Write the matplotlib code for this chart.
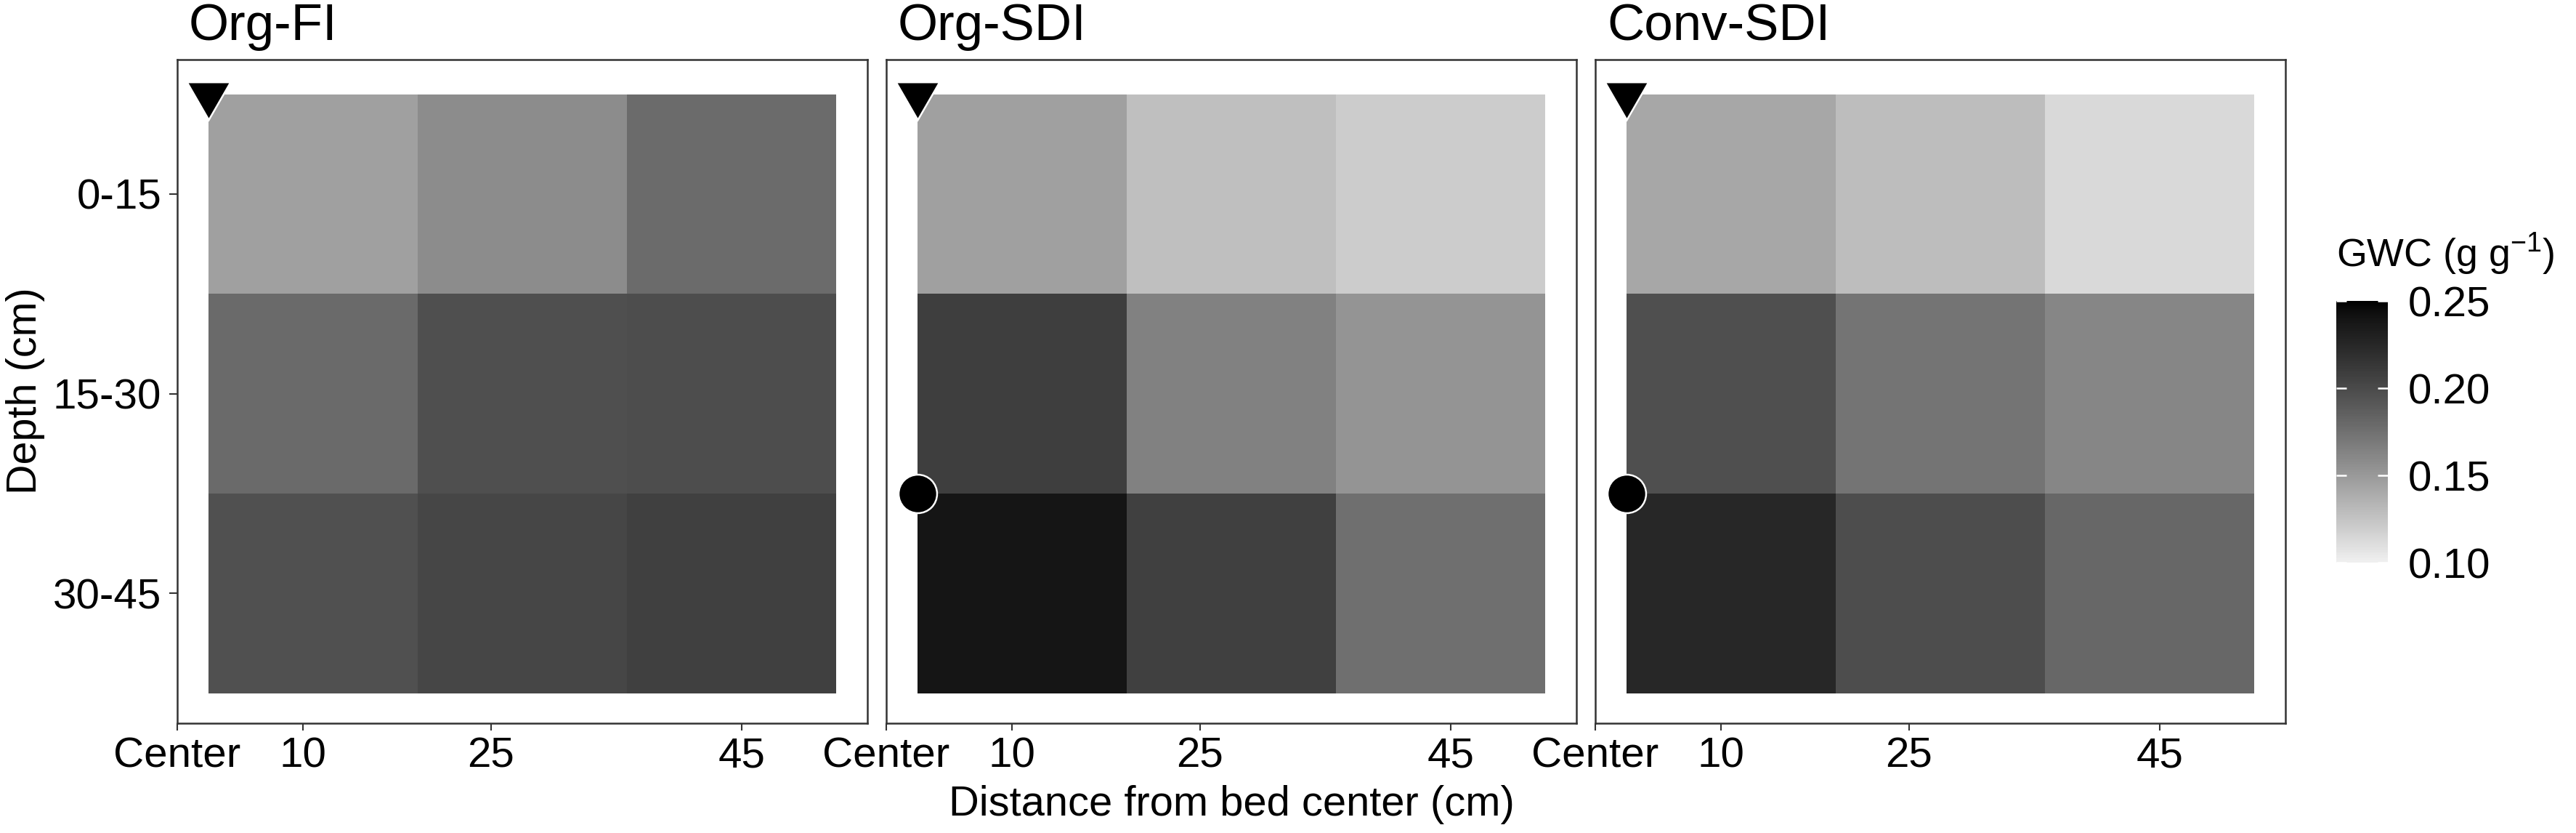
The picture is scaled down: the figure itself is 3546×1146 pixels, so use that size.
import numpy as np
import matplotlib
matplotlib.use('Agg')
import matplotlib.pyplot as plt
from matplotlib.colors import LinearSegmentedColormap, Normalize
from matplotlib.cm import ScalarMappable

plt.rcParams['font.family'] = ['Liberation Sans', 'DejaVu Sans']
plt.rcParams['mathtext.fontset'] = 'custom'
plt.rcParams['mathtext.rm'] = 'Liberation Sans'
plt.rcParams['mathtext.default'] = 'regular'

# ---- data (GWC, g g-1), rows = depth, cols = distance from bed center ----
treatments = ['Org-FI', 'Org-SDI', 'Conv-SDI']
depth_labels = ['0-15', '15-30', '30-45']
depth_edges = [0, 15, 30, 45]
dist_ticks = [0, 10, 25, 45]
dist_labels = ['Center', '10', '25', '45']

gwc_org_fi = [[0.146, 0.158, 0.178],
              [0.179, 0.197, 0.198],
              [0.196, 0.203, 0.207]]
gwc_org_sdi = [[0.146, 0.128, 0.120],
               [0.208, 0.165, 0.153],
               [0.239, 0.207, 0.176]]
gwc_conv_sdi = [[0.142, 0.129, 0.113],
                [0.197, 0.173, 0.162],
                [0.225, 0.198, 0.181]]

# drip emitter positions (distance, depth); surface tape in all, buried tape in SDI
surface_tape = (2.5, 0)
buried_tape = [None, (2.5, 30), (2.5, 30)]

gwc_limits = (0.10, 0.25)
gwc_ticks = [0.10, 0.15, 0.20, 0.25]

# ---- grey scale, linear in L* (like ggplot's gradient) ----
def lstar_to_grey(L):
    fy = (L + 16) / 116
    Y = np.where(L > 8, fy ** 3, L / 903.3)
    return np.where(Y <= 0.0031308, 12.92 * Y, 1.055 * Y ** (1 / 2.4) - 0.055)

greys = lstar_to_grey(np.linspace(94.8, 0, 256))
cmap = LinearSegmentedColormap.from_list('gwc', [(g, g, g) for g in greys])
norm = Normalize(*gwc_limits)

W, H = 3546, 1146
fig = plt.figure(figsize=(W / 300, H / 300), dpi=300)

panel_left = [244, 1220, 2196]
panel_w, panel_top, panel_bot = 950, 82, 995
tick_size = 14

dist_edges = np.linspace(2.5, 52.5, 4)
depth_centers = [(a + b) / 2 for a, b in zip(depth_edges[:-1], depth_edges[1:])]

for i, (name, vals) in enumerate(zip(treatments, [gwc_org_fi, gwc_org_sdi, gwc_conv_sdi])):
    ax = fig.add_axes([panel_left[i] / W, 1 - panel_bot / H, panel_w / W, (panel_bot - panel_top) / H])
    ax.pcolormesh(dist_edges, depth_edges, np.array(vals), cmap=cmap, norm=norm,
                  shading='flat', antialiased=False, linewidth=0)
    ax.set_xlim(0, 55)
    ax.set_ylim(47.25, -2.6)

    ax.plot(*surface_tape, marker=(3, 0, 180), ms=16.6, mfc='black', mec='white',
            mew=0.6, ls='none', clip_on=False, zorder=5)
    if buried_tape[i] is not None:
        ax.plot(*buried_tape[i], marker='o', ms=12.7, mfc='black', mec='white',
                mew=0.6, ls='none', clip_on=False, zorder=5)

    for sp in ax.spines.values():
        sp.set_color('#333333')
        sp.set_linewidth(0.6)

    ax.set_xticks(dist_ticks, dist_labels)
    ax.tick_params(axis='x', direction='out', length=2.4, width=0.5, color='#333333',
                   labelsize=tick_size, pad=2.0, labelcolor='black')
    if i == 0:
        ax.set_yticks(depth_centers, depth_labels)
        ax.tick_params(axis='y', direction='out', length=2.6, width=0.5, color='#333333',
                       labelsize=tick_size, pad=2.6, labelcolor='black')
    else:
        ax.set_yticks([])

    fig.text((panel_left[i] + 16) / W, 1 - 55 / H, name, fontsize=17,
             ha='left', va='baseline')

fig.text(35 / W, 1 - 538 / H, 'Depth (cm)', rotation=90, fontsize=13.8,
         ha='center', va='center')
fig.text(1695 / W, 1 - 1122 / H, 'Distance from bed center (cm)', fontsize=13.9,
         ha='center', va='baseline')

# ---- colour bar ----
cax = fig.add_axes([3216 / W, 1 - 774 / H, 71 / W, 360 / H])
cb = fig.colorbar(ScalarMappable(norm=norm, cmap=cmap), cax=cax, ticks=gwc_ticks)
cb.ax.set_yticklabels([f'{t:.2f}' for t in gwc_ticks])
cb.outline.set_visible(False)
cax.tick_params(direction='in', length=3.4, width=0.6, color='white', left=True, right=True,
                labelsize=tick_size, pad=6.6)
fig.text(3216 / W, 1 - 367 / H, r'GWC (g g$^{-1}$)', fontsize=12.9, ha='left', va='baseline')

fig.savefig('out.png', dpi=300)
